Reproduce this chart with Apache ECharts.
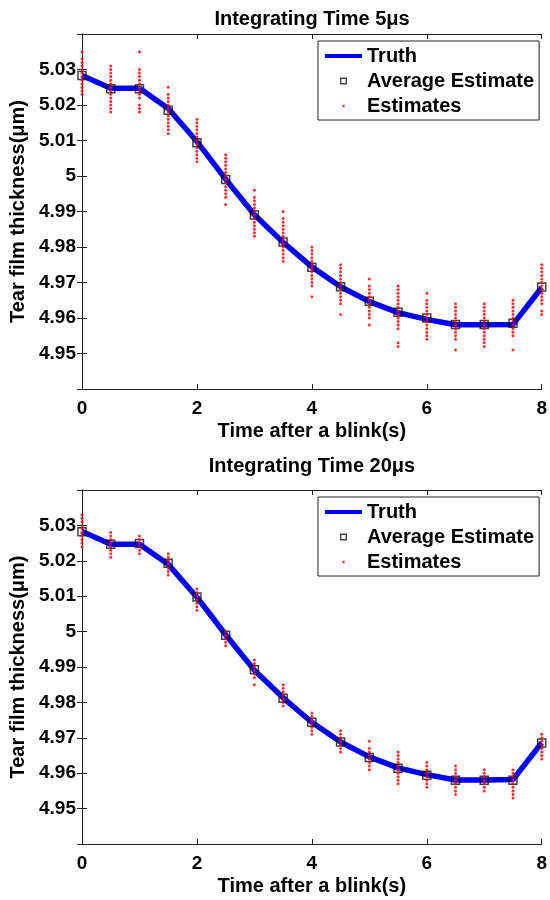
<!DOCTYPE html>
<html>
<head>
<meta charset="utf-8">
<title>Tear film thickness</title>
<script src="https://cdn.jsdelivr.net/npm/echarts@6/dist/echarts.min.js"></script>
<style>
  html, body { margin: 0; padding: 0; background: #fff; }
  #chart { width: 550px; height: 900px; }
</style>
</head>
<body>
<div id="chart"></div>
<script>
// time after blink (s)
const times = [0, 0.5, 1, 1.5, 2, 2.5, 3, 3.5, 4, 4.5, 5, 5.5, 6, 6.5, 7, 7.5, 8];
const titles = ['Integrating Time 5μs', 'Integrating Time 20μs'];

const truth = [5.0283, 5.0247, 5.0247, 5.0190, 5.0097, 4.9991, 4.9891, 4.9813, 4.9744,
  4.9688, 4.9646, 4.9615, 4.9596, 4.9581, 4.9581, 4.9582, 4.9686];

const avg5 = [5.0283, 5.0246, 5.0246, 5.0185, 5.0094, 4.9990, 4.9890, 4.9814, 4.9743,
  4.9688, 4.9647, 4.9616, 4.9600, 4.9582, 4.9582, 4.9585, 4.9687];
const avg20 = [5.0282, 5.0247, 5.0249, 5.0193, 5.0098, 4.9990, 4.9892, 4.9812, 4.9744,
  4.9688, 4.9644, 4.9614, 4.9594, 4.9580, 4.9580, 4.9580, 4.9685];

// individual estimates, one list per time point
const est5 = [
  [5.035, 5.033, 5.032, 5.031, 5.030, 5.029, 5.028, 5.027, 5.026, 5.025, 5.024, 5.023],
  [5.031, 5.030, 5.029, 5.028, 5.027, 5.026, 5.025, 5.024, 5.023, 5.022, 5.021, 5.020, 5.019, 5.018],
  [5.035, 5.030, 5.029, 5.028, 5.027, 5.026, 5.025, 5.024, 5.023, 5.022, 5.020, 5.019, 5.018],
  [5.025, 5.023, 5.022, 5.021, 5.020, 5.019, 5.018, 5.017, 5.016, 5.015, 5.014, 5.013, 5.012],
  [5.016, 5.015, 5.014, 5.013, 5.012, 5.011, 5.010, 5.009, 5.008, 5.007, 5.006, 5.005, 5.004],
  [5.006, 5.005, 5.004, 5.003, 5.002, 5.001, 5.000, 4.999, 4.998, 4.997, 4.996, 4.995, 4.994, 4.992],
  [4.996, 4.994, 4.993, 4.992, 4.991, 4.990, 4.989, 4.988, 4.987, 4.986, 4.985, 4.984, 4.983],
  [4.990, 4.988, 4.987, 4.986, 4.985, 4.984, 4.983, 4.982, 4.981, 4.980, 4.979, 4.978, 4.977, 4.976],
  [4.980, 4.979, 4.978, 4.977, 4.976, 4.975, 4.974, 4.973, 4.972, 4.971, 4.970, 4.969, 4.966],
  [4.975, 4.974, 4.973, 4.972, 4.971, 4.970, 4.969, 4.968, 4.967, 4.966, 4.965, 4.964, 4.961],
  [4.971, 4.969, 4.968, 4.967, 4.966, 4.965, 4.964, 4.963, 4.962, 4.961, 4.960, 4.958],
  [4.969, 4.968, 4.967, 4.966, 4.965, 4.964, 4.963, 4.962, 4.961, 4.960, 4.959, 4.958, 4.957, 4.953, 4.952],
  [4.967, 4.965, 4.964, 4.963, 4.962, 4.961, 4.960, 4.959, 4.958, 4.957, 4.956, 4.955, 4.954],
  [4.964, 4.963, 4.962, 4.961, 4.960, 4.959, 4.958, 4.957, 4.956, 4.955, 4.954, 4.951],
  [4.964, 4.963, 4.962, 4.961, 4.960, 4.959, 4.958, 4.957, 4.956, 4.955, 4.954, 4.953, 4.952],
  [4.965, 4.964, 4.963, 4.962, 4.961, 4.960, 4.959, 4.958, 4.957, 4.956, 4.955, 4.951],
  [4.975, 4.974, 4.973, 4.972, 4.971, 4.970, 4.969, 4.968, 4.967, 4.966, 4.965, 4.964, 4.962, 4.961]
];
const est20 = [
  [5.033, 5.032, 5.031, 5.030, 5.029, 5.028, 5.027, 5.026, 5.025, 5.024],
  [5.028, 5.027, 5.026, 5.025, 5.024, 5.023, 5.022, 5.021],
  [5.027, 5.026, 5.025, 5.024, 5.023, 5.022],
  [5.022, 5.021, 5.020, 5.019, 5.018, 5.017, 5.016],
  [5.012, 5.011, 5.010, 5.009, 5.008, 5.007, 5.006],
  [5.000, 4.999, 4.998, 4.997, 4.996],
  [4.992, 4.991, 4.990, 4.989, 4.988, 4.987, 4.985],
  [4.985, 4.984, 4.983, 4.982, 4.981, 4.980, 4.979],
  [4.977, 4.976, 4.975, 4.974, 4.973, 4.972, 4.971],
  [4.972, 4.971, 4.970, 4.969, 4.968, 4.967, 4.966],
  [4.969, 4.967, 4.966, 4.965, 4.964, 4.963, 4.962, 4.961],
  [4.966, 4.965, 4.964, 4.963, 4.962, 4.961, 4.960, 4.959, 4.958, 4.957],
  [4.963, 4.962, 4.961, 4.960, 4.959, 4.958, 4.957, 4.956],
  [4.962, 4.961, 4.960, 4.959, 4.958, 4.957, 4.956, 4.955, 4.954],
  [4.961, 4.960, 4.959, 4.958, 4.957, 4.956, 4.955],
  [4.961, 4.960, 4.959, 4.958, 4.957, 4.956, 4.955, 4.954, 4.953],
  [4.971, 4.970, 4.969, 4.968, 4.967, 4.966, 4.965, 4.964]
];

const FONT = "'Liberation Sans', Arial, Helvetica, sans-serif";
const AXIS_COLOR = '#222';
const grids = [
  { left: 82, right: 7, top: 34, height: 355 },
  { left: 82, right: 7, top: 490, height: 354 }
];
const txt = (size) => ({ fontFamily: FONT, fontWeight: 'bold', fontSize: size, color: '#000' });

const pairs = (ys) => times.map((t, i) => [t, ys[i]]);
const flatEst = (cols) => {
  let out = [];
  cols.forEach((col, i) => {
    col.forEach(v => out.push([times[i], v]));
  });
  return out;
};

const fmtY = v => String(+v.toFixed(2));

let xAxes = [], yAxes = [], series = [], titleList = [], legends = [];
[avg5, avg20].forEach((avg, p) => {
  const est = p === 0 ? est5 : est20;
  // bottom x axis
  xAxes.push({
    type: 'value', gridIndex: p, min: 0, max: 8, interval: 2, position: 'bottom',
    name: 'Time after a blink(s)', nameLocation: 'middle', nameGap: 32,
    nameTextStyle: txt(20),
    axisLine: { show: true, lineStyle: { color: AXIS_COLOR, width: 1 } },
    axisTick: { show: true, inside: true, length: 5, lineStyle: { color: AXIS_COLOR } },
    axisLabel: Object.assign({ margin: 10 }, txt(19)),
    splitLine: { show: false }
  });
  // top x axis (box)
  xAxes.push({
    type: 'value', gridIndex: p, min: 0, max: 8, interval: 2, position: 'top',
    axisLine: { show: true, lineStyle: { color: AXIS_COLOR, width: 1 } },
    axisTick: { show: true, inside: true, length: 5, lineStyle: { color: AXIS_COLOR } },
    axisLabel: { show: false },
    splitLine: { show: false }
  });
  yAxes.push({
    type: 'value', gridIndex: p, min: 4.94, max: 5.04, interval: 0.01, position: 'left',
    name: 'Tear film thickness(μm)', nameLocation: 'middle', nameGap: 48, nameRotate: 90,
    nameTextStyle: txt(20),
    axisLine: { show: true, lineStyle: { color: AXIS_COLOR, width: 1 } },
    axisTick: { show: true, inside: true, length: 5, lineStyle: { color: AXIS_COLOR } },
    axisLabel: Object.assign({
      margin: 6, showMinLabel: false, showMaxLabel: false, formatter: fmtY
    }, txt(19)),
    splitLine: { show: false }
  });
  yAxes.push({
    type: 'value', gridIndex: p, min: 4.94, max: 5.04, interval: 0.01, position: 'right',
    axisLine: { show: true, lineStyle: { color: AXIS_COLOR, width: 1 } },
    axisTick: { show: true, inside: true, length: 5, lineStyle: { color: AXIS_COLOR } },
    axisLabel: { show: false },
    splitLine: { show: false }
  });

  series.push({
    name: 'Truth', type: 'line', xAxisIndex: 2 * p, yAxisIndex: 2 * p,
    data: pairs(truth), symbol: 'none', z: 2,
    lineStyle: { color: '#0000ff', width: 5.5 },
    itemStyle: { color: '#0000ff' }
  });
  series.push({
    name: 'Average Estimate', type: 'scatter', xAxisIndex: 2 * p, yAxisIndex: 2 * p,
    data: pairs(avg), symbol: 'rect', symbolSize: 8, z: 3, clip: false,
    itemStyle: { color: 'rgba(0,0,0,0)', borderColor: '#111', borderWidth: 1.5 }
  });
  series.push({
    name: 'Estimates', type: 'scatter', xAxisIndex: 2 * p, yAxisIndex: 2 * p,
    data: flatEst(est), symbol: 'circle', symbolSize: 3, z: 4, clip: false,
    itemStyle: { color: '#ff0000' }
  });

  titleList.push({
    text: titles[p], left: 312, textAlign: 'center', top: p === 0 ? 9 : 456, padding: 0,
    textStyle: txt(20)
  });

  legends.push({
    orient: 'vertical', left: 318, top: p === 0 ? 41 : 497,
    itemWidth: 37, itemHeight: 14, itemGap: 5, padding: [5, 5, 4, 7],
    borderColor: AXIS_COLOR, borderWidth: 1, backgroundColor: '#fff',
    selectedMode: false,
    textStyle: txt(20),
    data: [
      { name: 'Truth', icon: 'path://M0,0 M37,14 M0,5 h37 v4 h-37 z',
        itemStyle: { color: '#0000ff', borderWidth: 0 } },
      { name: 'Average Estimate', icon: 'path://M0,0 M37,14 M15,3.5 h7 v7 h-7 z M16.4,4.9 v4.2 h4.2 v-4.2 z',
        itemStyle: { color: '#111', borderWidth: 0 } },
      { name: 'Estimates', icon: 'path://M0,0 M37,14 M17.3,5.8 h2.4 v2.4 h-2.4 z',
        itemStyle: { color: '#ff0000', borderWidth: 0 } }
    ]
  });
});

const myChart = echarts.init(document.getElementById('chart'), null, { renderer: 'canvas' });
myChart.setOption({
  backgroundColor: '#fff',
  animation: false,
  title: titleList,
  legend: legends,
  grid: grids,
  xAxis: xAxes,
  yAxis: yAxes,
  series: series
});
</script>
</body>
</html>
